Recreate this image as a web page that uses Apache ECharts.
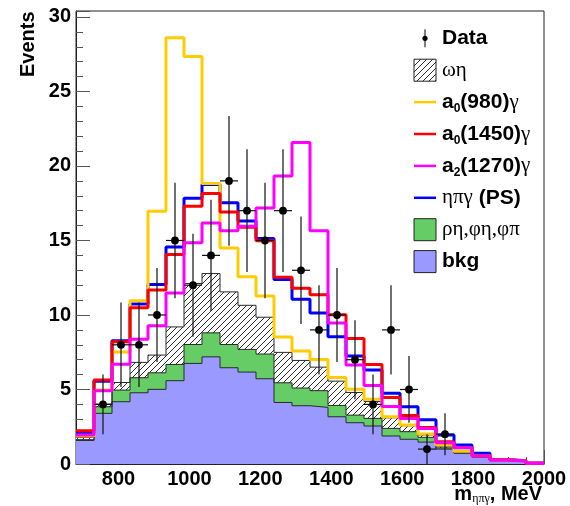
<!DOCTYPE html>
<html>
<head>
<meta charset="utf-8">
<script src="https://cdn.jsdelivr.net/npm/echarts@6/dist/echarts.min.js"></script>
<style>
  html, body { margin: 0; padding: 0; background: #fff; }
  #chart { width: 570px; height: 506px; }
</style>
</head>
<body>
<div id="chart"></div>
<script>
// m(ηπγ) spectrum: 26 equal bins between massMin and massMax (MeV)
const massMin = 680;
const massMax = 2000;
const nBins = 26;

// Observed events per bin (null = empty bin) and their errors
const dataCounts = [null, 4, 8, 8, 10, 15, 12, 14, 19, 17, 15, 17, 13, 9, 10, 7, 4, 9, 5, 1, 2, null, null, null, null, null];
const dataErrors = [null, 2.0, 2.83, 2.83, 3.16, 3.87, 3.46, 3.74, 4.36, 4.12, 3.87, 4.12, 3.61, 3.0, 3.16, 2.65, 2.0, 3.0, 2.24, 1.0, 1.41, null, null, null, null, null];

// Stacked simulation: background, + ρη/φη/φπ, + ωη (cumulative tops)
const bkg = [1.58, 3.40, 4.18, 4.78, 5.01, 5.59, 6.75, 7.19, 6.46, 6.17, 5.72, 4.13, 3.91, 3.80, 3.17, 2.77, 2.55, 1.88, 1.66, 1.47, 1.00, 0.72, 0.45, 0.22, 0.18, 0.04];
const bkgRhoEta = [1.63, 3.84, 4.96, 5.79, 6.12, 6.68, 8.02, 8.80, 8.02, 7.69, 7.38, 5.45, 5.10, 4.92, 3.93, 3.28, 3.06, 2.39, 2.17, 1.79, 1.08, 0.76, 0.47, 0.23, 0.19, 0.05];
const bkgRhoEtaOmegaEta = [1.78, 4.02, 5.47, 6.82, 7.31, 9.20, 12.11, 12.78, 11.55, 10.65, 9.85, 7.49, 6.95, 6.50, 5.56, 4.80, 4.20, 3.10, 2.57, 1.95, 1.16, 0.80, 0.50, 0.24, 0.20, 0.05];

// Totals with each signal hypothesis added on top of the stack
const totalA0980 = [1.88, 4.96, 7.51, 10.95, 16.96, 28.60, 27.35, 18.82, 14.50, 12.56, 11.27, 8.53, 7.58, 7.02, 5.81, 5.01, 4.35, 3.17, 2.61, 2.01, 1.27, 0.85, 0.55, 0.28, 0.20, 0.05];
const totalA01450 = [2.23, 5.63, 8.20, 10.48, 11.68, 14.06, 17.30, 18.15, 16.91, 15.89, 14.98, 12.53, 11.80, 11.36, 10.02, 8.42, 6.68, 4.47, 3.25, 2.45, 1.50, 1.10, 0.56, 0.28, 0.20, 0.05];
const totalA21270 = [1.94, 4.91, 6.70, 8.38, 9.27, 11.48, 14.84, 16.18, 15.66, 15.95, 17.18, 19.33, 21.58, 15.66, 9.47, 6.64, 5.27, 3.86, 3.06, 2.39, 1.43, 1.09, 0.54, 0.27, 0.20, 0.05];
const totalPS = [2.10, 5.55, 8.27, 10.73, 12.05, 14.57, 17.83, 18.75, 17.53, 16.30, 15.13, 12.38, 11.06, 10.13, 8.54, 7.24, 6.30, 4.74, 3.84, 2.97, 1.94, 1.27, 0.72, 0.31, 0.22, 0.06];

const yMax = 30.4;

const SANS = "'Liberation Sans', Arial, Helvetica, sans-serif";
const SERIF = "'Liberation Serif', 'DejaVu Serif', serif";

const binWidth = (massMax - massMin) / nBins;
const edge = i => massMin + i * binWidth;

// Histogram outline as a step polyline through the bin edges
function stepPoints(values) {
  const pts = [];
  values.forEach((v, i) => {
    pts.push([edge(i), v]);
    pts.push([edge(i + 1), v]);
  });
  return pts;
}

// Diagonal hatching used for the ωη component
function makeHatch() {
  const c = document.createElement('canvas');
  c.width = 6; c.height = 6;
  const g = c.getContext('2d');
  g.fillStyle = '#ffffff';
  g.fillRect(0, 0, 6, 6);
  g.strokeStyle = '#2e2e2e';
  g.lineWidth = 1;
  g.beginPath();
  g.moveTo(-1, 7); g.lineTo(7, -1);
  g.moveTo(-1, 1); g.lineTo(1, -1);
  g.moveTo(5, 7); g.lineTo(7, 5);
  g.stroke();
  return c;
}
const hatch = makeHatch();

function filledHist(name, values, fill) {
  return {
    name, type: 'line', data: stepPoints(values), showSymbol: false, silent: true,
    lineStyle: { color: '#2a2a2a', width: 1 },
    areaStyle: { color: fill, opacity: 1 },
    animation: false
  };
}
function lineHist(name, values, color) {
  return {
    name, type: 'line', data: stepPoints(values), showSymbol: false, silent: true,
    lineStyle: { color, width: 3 },
    animation: false
  };
}

const pointData = [];
dataCounts.forEach((n, i) => {
  if (n === null) return;
  pointData.push([(edge(i) + edge(i + 1)) / 2, n, dataErrors[i], edge(i), edge(i + 1)]);
});

function renderPoint(params, api) {
  const x = api.value(0), y = api.value(1), e = api.value(2);
  const c = api.coord([x, y]);
  const lo = api.coord([x, y - e]);
  const hi = api.coord([x, y + e]);
  const l = api.coord([api.value(3), y]);
  const r = api.coord([api.value(4), y]);
  const st = { stroke: '#111', lineWidth: 1.2 };
  return {
    type: 'group',
    children: [
      { type: 'line', shape: { x1: c[0], y1: lo[1], x2: c[0], y2: hi[1] }, style: st },
      { type: 'line', shape: { x1: l[0], y1: c[1], x2: r[0], y2: c[1] }, style: st },
      { type: 'circle', shape: { cx: c[0], cy: c[1], r: 3.9 }, style: { fill: '#000' } }
    ]
  };
}

// Legend drawn as graphic rows
const rowY = [38.3, 70.2, 102.1, 134, 165.9, 197.8, 229.7, 261.6];
const iconL = 414, iconR = 436, textX = 442;
const bold21 = { fontFamily: SANS, fontWeight: 'bold', fontSize: 21, lineHeight: 26, fill: '#000' };
const serif21 = { fontFamily: SERIF, fontSize: 21, lineHeight: 26, fill: '#000' };
const sub12 = { fontFamily: SANS, fontWeight: 'bold', fontSize: 12, lineHeight: 12, verticalAlign: 'bottom', fill: '#000' };
const legendRich = { b: bold21, g: serif21, s: sub12 };

function legendText(y, text) {
  return { type: 'text', x: textX, y, silent: true,
    style: { text, rich: legendRich, align: 'left', verticalAlign: 'middle' } };
}
function legendLine(y, color) {
  return { type: 'line', silent: true, shape: { x1: iconL, y1: y, x2: iconR, y2: y }, style: { stroke: color, lineWidth: 2.5 } };
}
function legendBox(y, fill) {
  return { type: 'rect', silent: true, shape: { x: iconL, y: y - 11, width: iconR - iconL, height: 22 },
    style: { fill, stroke: '#222', lineWidth: 1 } };
}

const graphics = [
  // Data marker
  { type: 'line', silent: true, shape: { x1: 425, y1: rowY[0] - 9, x2: 425, y2: rowY[0] + 9 }, style: { stroke: '#000', lineWidth: 1 } },
  { type: 'circle', silent: true, shape: { cx: 425, cy: rowY[0], r: 2.6 }, style: { fill: '#000' } },
  legendText(rowY[0], '{b|Data}'),
  legendBox(rowY[1], { image: hatch, repeat: 'repeat' }),
  legendText(rowY[1], '{g|ωη}'),
  legendLine(rowY[2], '#ffcc00'),
  legendText(rowY[2], '{b|a}{s|0}{b|(980)}{g|γ}'),
  legendLine(rowY[3], '#ff0000'),
  legendText(rowY[3], '{b|a}{s|0}{b|(1450)}{g|γ}'),
  legendLine(rowY[4], '#ff00ff'),
  legendText(rowY[4], '{b|a}{s|2}{b|(1270)}{g|γ}'),
  legendLine(rowY[5], '#0000ff'),
  legendText(rowY[5], '{g|ηπγ}{b| (PS)}'),
  legendBox(rowY[6], '#66cc66'),
  legendText(rowY[6], '{g|ρη,φη,φπ}'),
  legendBox(rowY[7], '#9999ff'),
  legendText(rowY[7], '{b|bkg}'),
  // Axis titles
  { type: 'text', x: 28, y: 11.5, rotation: Math.PI / 2, silent: true,
    style: { text: 'Events', fontFamily: SANS, fontWeight: 'bold', fontSize: 20, fill: '#000', align: 'right', verticalAlign: 'middle' } },
  { type: 'text', x: 542, y: 494, silent: true,
    style: { text: '{b|m}{s|ηπγ}{b|, MeV}', align: 'right', verticalAlign: 'middle',
      rich: {
        b: { fontFamily: SANS, fontWeight: 'bold', fontSize: 20, lineHeight: 22, fill: '#000' },
        s: { fontFamily: SERIF, fontSize: 12, lineHeight: 12, verticalAlign: 'bottom', fill: '#000' }
      } } }
];

const chart = echarts.init(document.getElementById('chart'), null, { renderer: 'canvas' });
chart.setOption({
  animation: false,
  backgroundColor: '#fff',
  grid: { left: 76, right: 26, top: 11, bottom: 42, show: true, borderColor: '#222', borderWidth: 1, backgroundColor: '#fff' },
  xAxis: [
    {
      type: 'value', min: massMin, max: massMax, splitNumber: 6,
      axisLine: { show: true, lineStyle: { color: '#222', width: 1 } },
      axisTick: { show: true, inside: true, length: 14, lineStyle: { color: '#555' } },
      axisLabel: {
        show: true, margin: 5, color: '#000', fontFamily: SANS, fontWeight: 'bold', fontSize: 20,
        formatter: v => (v % 200 === 0 ? String(v) : '')
      },
      splitLine: { show: false }
    },
    {
      type: 'value', min: massMin, max: massMax, splitNumber: 26, position: 'bottom',
      axisLine: { show: false },
      axisTick: { show: true, inside: true, length: 7, lineStyle: { color: '#555' } },
      axisLabel: { show: false },
      splitLine: { show: false }
    }
  ],
  yAxis: [
    {
      type: 'value', min: 0, max: yMax, interval: 5,
      axisLine: { show: true, lineStyle: { color: '#222', width: 1 } },
      axisTick: { show: true, inside: true, length: 14, lineStyle: { color: '#555' } },
      axisLabel: {
        show: true, margin: 5, color: '#000', fontFamily: SANS, fontWeight: 'bold', fontSize: 20,
        formatter: v => (v % 5 === 0 ? String(v) : '')
      },
      splitLine: { show: false }
    },
    {
      type: 'value', min: 0, max: yMax, interval: 1, position: 'left',
      axisLine: { show: false },
      axisTick: { show: true, inside: true, length: 7, lineStyle: { color: '#555' } },
      axisLabel: { show: false },
      splitLine: { show: false }
    }
  ],
  series: [
    filledHist('ωη', bkgRhoEtaOmegaEta, { image: hatch, repeat: 'repeat' }),
    filledHist('ρη,φη,φπ', bkgRhoEta, '#66cc66'),
    filledHist('bkg', bkg, '#9999ff'),
    lineHist('ηπγ (PS)', totalPS, '#0000ff'),
    lineHist('a0(980)γ', totalA0980, '#ffcc00'),
    lineHist('a0(1450)γ', totalA01450, '#ff0000'),
    lineHist('a2(1270)γ', totalA21270, '#ff00ff'),
    {
      name: 'Data', type: 'custom', renderItem: renderPoint, data: pointData,
      dimensions: ['m', 'n', 'err', 'lo', 'hi'],
      encode: { x: [0, 3, 4], y: 1 }, silent: true, animation: false, z: 5
    }
  ],
  graphic: graphics
});
</script>
</body>
</html>
